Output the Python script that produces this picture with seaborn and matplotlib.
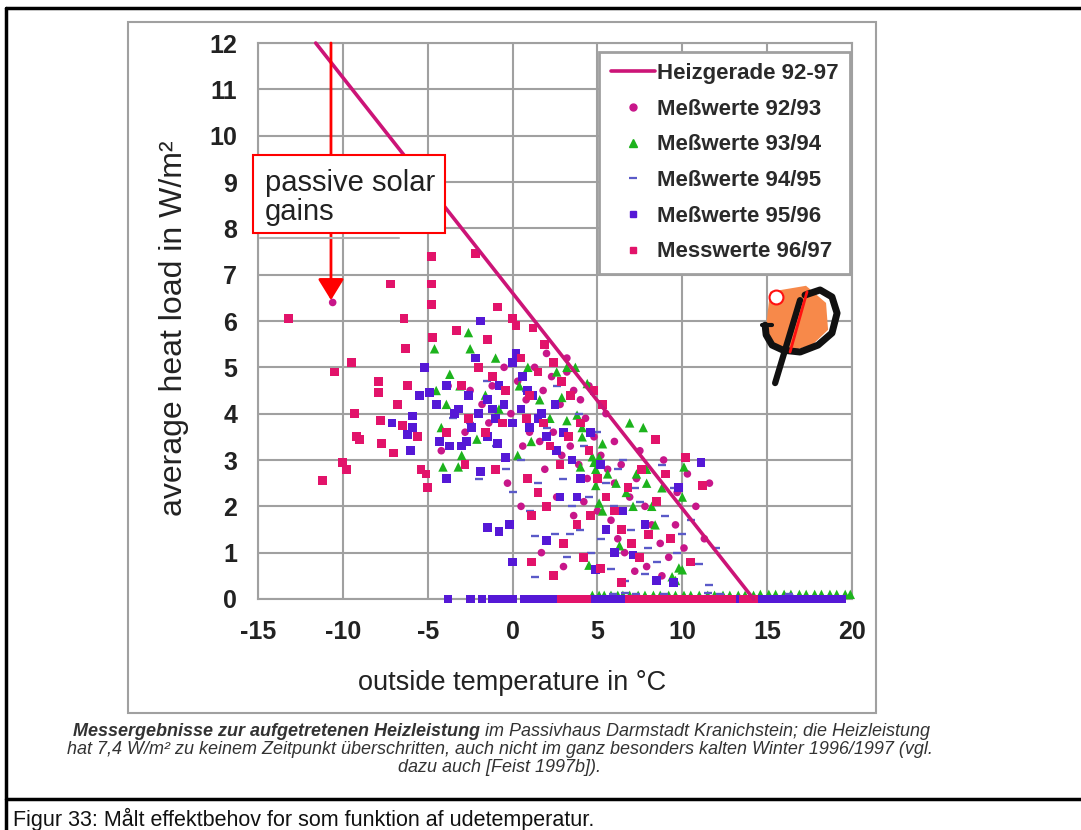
import numpy as np
import pandas as pd
import matplotlib
matplotlib.use("Agg")
import matplotlib.pyplot as plt
import seaborn as sns
from matplotlib.lines import Line2D
from matplotlib.patches import Rectangle, Polygon

# Heizgerade 92-97 (outside temperature, heat load)
heiz_x = [-11.6, 14.2]
heiz_y = [12.0, 0.0]

# Meßwerte 92/93 (circles)
pts_9293 = [(-10.6, 6.4), (-2.5, 4.5), (-1.8, 4.2), (-1.2, 4.6), (-0.5, 5.0), (0.3, 4.7), (0.8, 4.3),
            (1.3, 5.0), (1.8, 4.5), (2.3, 4.8), (2.8, 4.2), (3.2, 4.9), (3.6, 4.5), (4.0, 4.3),
            (4.3, 3.9), (1.0, 3.6), (1.6, 3.4), (2.4, 3.6), (2.9, 3.1), (3.4, 3.3), (3.9, 2.9),
            (4.4, 2.6), (4.8, 3.5), (5.2, 3.1), (5.6, 2.8), (6.0, 2.5), (6.4, 2.9), (6.9, 2.2),
            (7.3, 2.6), (7.8, 2.0), (8.2, 1.6), (8.7, 1.2), (9.2, 0.9), (9.7, 2.3), (10.3, 2.7),
            (10.8, 2.0), (11.3, 1.3), (5.8, 1.7), (6.2, 1.3), (5.0, 1.9), (4.2, 2.1), (3.6, 1.8),
            (2.6, 2.2), (7.2, 0.6), (7.9, 0.7), (8.8, 0.5), (6.6, 1.0), (9.6, 1.6), (3.0, 0.7),
            (1.7, 1.0), (0.5, 2.0), (-0.3, 2.5), (5.5, 4.0), (6.0, 3.4), (7.5, 3.2), (4.5, 4.6),
            (3.2, 5.2), (2.0, 5.3), (-1.4, 3.8), (-2.8, 3.6), (-3.8, 4.6), (-4.2, 3.2), (-0.1, 4.0),
            (0.6, 3.3), (1.9, 2.8), (8.9, 3.0), (11.6, 2.5), (10.1, 1.1),
            (7.0, 0.0), (7.6, 0.0), (8.2, 0.0), (9.4, 0.0), (10.4, 0.0), (11.6, 0.0), (12.5, 0.0), (13.3, 0.0)]

# Meßwerte 93/94 (triangles)
pts_9394 = [(3.2, 5.0), (3.7, 5.0), (4.4, 4.65), (2.9, 4.35), (2.2, 3.9), (3.2, 3.85), (6.9, 3.8),
            (7.7, 3.7), (1.1, 3.4), (4.1, 3.5), (5.1, 3.05), (5.3, 3.35), (4.0, 2.85), (4.9, 2.8),
            (5.6, 2.7), (6.1, 2.5), (4.9, 2.45), (7.3, 2.7), (7.9, 2.5), (8.8, 2.4), (10.1, 2.85),
            (10.0, 2.2), (6.7, 2.3), (5.1, 2.07), (5.3, 1.9), (7.1, 2.0), (8.2, 2.0), (4.5, 0.73),
            (9.4, 0.48), (9.8, 0.67), (7.9, 2.8), (0.3, 3.1), (3.8, 3.97), (4.1, 3.7), (4.7, 3.07),
            (4.8, 2.95), (-2.6, 5.75), (-4.1, 2.85), (-3.2, 2.85), (-4.2, 3.7), (-3.0, 3.1),
            (-2.1, 3.45), (-4.6, 5.4), (-4.5, 4.5), (-3.7, 4.85), (-3.1, 4.6), (-1.6, 4.4),
            (-0.8, 4.1), (0.4, 4.6), (1.6, 4.3), (-2.5, 5.4), (6.3, 1.15), (8.4, 1.6), (10.0, 0.63),
            (9.6, 0.4), (-1.0, 5.2), (0.9, 5.0), (2.6, 4.9), (-3.9, 4.2),
            (4.7, 0.08), (5.1, 0.08), (5.4, 0.08), (5.8, 0.08), (6.2, 0.08), (6.5, 0.08), (6.9, 0.08),
            (7.4, 0.08), (7.8, 0.08), (8.3, 0.08), (8.7, 0.08), (9.2, 0.08), (9.6, 0.08), (10.1, 0.08),
            (10.5, 0.08), (11.0, 0.08), (11.5, 0.08), (11.9, 0.08), (12.4, 0.08), (12.8, 0.08),
            (13.3, 0.08), (13.7, 0.08), (14.2, 0.08), (14.6, 0.1), (15.1, 0.1), (15.5, 0.1),
            (16.0, 0.1), (16.4, 0.1), (16.9, 0.1), (17.3, 0.1), (17.8, 0.1), (18.2, 0.1), (18.7, 0.1),
            (19.1, 0.1), (19.6, 0.1), (19.9, 0.1)]

# Meßwerte 94/95 (dashes)
pts_9495 = [(1.3, 1.35), (1.3, 0.47), (2.0, 2.0), (-0.4, 2.8), (-2.5, 3.8), (-1.0, 3.3), (0.5, 3.0),
            (1.5, 2.5), (2.0, 3.7), (3.0, 2.6), (3.5, 2.0), (4.0, 1.5), (4.5, 2.2), (5.0, 3.6),
            (5.5, 2.5), (6.0, 2.0), (6.5, 3.0), (7.0, 1.5), (7.5, 2.1), (8.0, 1.1), (8.5, 0.8),
            (9.0, 1.8), (9.5, 2.4), (10.0, 1.4), (10.5, 1.7), (11.0, 0.75), (11.6, 0.3), (3.2, 0.9),
            (4.6, 1.0), (5.8, 0.65), (6.6, 0.38), (7.8, 0.55), (2.5, 1.4), (0.0, 2.3), (-2.0, 2.6),
            (12.0, 1.1), (8.8, 2.9), (2.6, 4.6), (3.9, 4.0), (4.2, 3.3), (-3.5, 3.9), (-1.5, 4.7),
            (0.8, 4.5), (6.2, 2.8), (7.2, 2.4), (9.7, 1.0), (3.4, 1.4), (5.2, 1.3), (1.0, 1.9),
            (5.9, 0.1), (6.6, 0.12), (7.3, 0.1), (8.9, 0.1), (11.5, 0.12), (12.2, 0.1), (16.3, 0.1)]

# Meßwerte 95/96 (squares)
pts_9596 = [(-7.1, 3.8), (-6.2, 3.55), (-5.9, 3.7), (-5.9, 3.95), (-5.5, 4.4), (-4.9, 4.45), (-3.9, 2.6),
            (-1.9, 2.75), (-4.3, 3.4), (-3.7, 3.3), (-3.0, 3.3), (-2.7, 3.4), (-1.5, 3.5), (-0.9, 3.35),
            (-0.4, 3.05), (-1.5, 1.55), (-0.8, 1.45), (-0.2, 1.6), (0.0, 0.8), (2.0, 1.27), (-4.5, 4.2),
            (-3.9, 4.6), (-3.2, 4.1), (-2.6, 4.4), (-2.0, 4.0), (-1.5, 4.3), (-1.0, 3.9), (-0.5, 4.2),
            (0.0, 3.8), (0.5, 4.1), (1.0, 3.7), (1.5, 3.9), (2.0, 3.5), (-2.2, 5.2), (-1.9, 6.0),
            (0.2, 5.3), (0.0, 5.1), (-0.8, 4.6), (1.2, 4.4), (2.5, 4.2), (3.0, 3.6), (3.5, 3.0),
            (4.0, 2.6), (4.6, 3.6), (2.8, 2.2), (5.5, 1.5), (6.0, 1.0), (8.5, 0.4), (9.8, 2.4),
            (11.1, 2.95), (4.9, 0.63), (7.1, 0.95), (9.5, 0.35), (-6.0, 3.2), (-5.2, 5.0), (0.6, 4.8),
            (1.7, 4.0), (2.6, 3.2), (3.8, 2.2), (5.2, 2.9), (6.5, 1.9), (7.8, 1.6), (-3.4, 4.0),
            (-2.4, 3.7), (-1.2, 4.1), (0.9, 4.5),
            (-3.8, 0.0), (-2.5, 0.0), (-1.8, 0.0), (-1.2, 0.0), (-0.8, 0.0), (-0.35, 0.0), (0.0, 0.0),
            (0.7, 0.0), (1.1, 0.0), (1.4, 0.0), (1.7, 0.0), (2.0, 0.0), (2.3, 0.0), (2.6, 0.0),
            (4.7, 0.0), (5.0, 0.0), (5.3, 0.0), (5.6, 0.0), (5.9, 0.0), (6.2, 0.0), (6.5, 0.0),
            (6.8, 0.0), (13.1, 0.0), (13.4, 0.0), (14.4, 0.0), (14.7, 0.0), (15.0, 0.0), (15.3, 0.0),
            (15.6, 0.0), (15.9, 0.0), (16.2, 0.0), (16.5, 0.0), (16.8, 0.0), (17.1, 0.0), (17.4, 0.0),
            (17.7, 0.0), (18.0, 0.0), (18.3, 0.0), (18.6, 0.0), (19.0, 0.0), (19.4, 0.0)]

# Messwerte 96/97 (squares)
pts_9697 = [(-13.2, 6.05), (-11.2, 2.55), (-10.5, 4.9), (-10.0, 2.95), (-9.8, 2.8), (-9.5, 5.1),
            (-9.3, 4.0), (-9.2, 3.5), (-9.0, 3.45), (-7.9, 4.7), (-7.9, 4.45), (-7.8, 3.85),
            (-7.7, 3.35), (-7.2, 6.8), (-7.0, 3.15), (-6.8, 4.2), (-6.5, 3.75), (-6.4, 6.05),
            (-6.3, 5.4), (-6.2, 4.6), (-5.6, 3.5), (-5.4, 2.8), (-5.1, 2.7), (-5.0, 2.4), (-4.8, 7.4),
            (-4.8, 6.8), (-4.8, 6.35), (-4.7, 5.65), (-2.2, 7.45), (-3.3, 5.8), (-0.9, 6.3),
            (0.0, 6.05), (0.2, 5.9), (1.2, 5.85), (1.9, 5.5), (-1.5, 5.6),
            (-3.0, 4.6), (-2.0, 5.0), (-1.2, 4.8), (-0.4, 4.5), (0.5, 5.2), (1.0, 4.4), (1.5, 4.9),
            (2.4, 5.1), (2.9, 4.7), (3.4, 4.4), (-2.6, 3.9), (-1.6, 3.6), (-0.6, 3.8), (0.8, 3.9),
            (1.8, 3.8), (2.2, 3.3), (2.8, 2.9), (3.3, 3.5), (4.0, 3.8), (4.5, 3.2), (5.0, 2.6),
            (5.5, 2.2), (6.0, 1.9), (6.4, 1.5), (7.0, 1.2), (7.5, 0.9), (8.0, 1.4), (8.5, 2.1),
            (9.0, 2.7), (10.2, 3.05), (11.2, 2.45), (3.0, 1.2), (4.2, 0.9), (5.2, 0.65), (1.1, 0.8),
            (2.0, 2.0), (1.5, 2.3), (0.9, 2.6), (3.8, 1.6), (4.6, 1.8), (6.8, 2.4), (7.6, 2.8),
            (8.4, 3.45), (9.3, 1.3), (10.5, 0.8), (-1.0, 2.8), (-2.8, 2.9), (1.1, 1.8), (2.4, 0.5),
            (6.4, 0.35), (5.3, 4.2), (4.8, 4.5), (-3.9, 3.6),
            (2.9, 0.0), (3.2, 0.0), (3.5, 0.0), (3.8, 0.0), (4.0, 0.0), (4.35, 0.0), (6.9, 0.0),
            (7.1, 0.0), (7.5, 0.0), (7.7, 0.0), (8.0, 0.0), (8.3, 0.0), (8.6, 0.0), (8.8, 0.0),
            (9.1, 0.0), (9.5, 0.0), (9.7, 0.0), (10.0, 0.0), (10.3, 0.0), (10.6, 0.0), (10.9, 0.0),
            (11.1, 0.0), (11.4, 0.0), (11.8, 0.0), (12.0, 0.0), (12.3, 0.0), (12.7, 0.0), (12.9, 0.0),
            (13.6, 0.0), (13.9, 0.0), (14.2, 0.0)]

labels = ["Heizgerade 92-97", "Meßwerte 92/93", "Meßwerte 93/94", "Meßwerte 94/95",
          "Meßwerte 95/96", "Messwerte 96/97"]
colors = ["#cc1477", "#c8168a", "#1db31d", "#5a5ac8", "#5518d6", "#e2136a"]

W, H = 1081, 830
sns.set_style("white")
plt.rcParams['font.family'] = ['Liberation Sans', 'DejaVu Sans']
plt.rcParams['axes.unicode_minus'] = False

fig = plt.figure(figsize=(W / 100, H / 100), dpi=100)
ax = fig.add_axes([258 / W, 1 - 599 / H, (852 - 258) / W, (599 - 43) / H])

grey = "#a0a0a0"
ax.set_xlim(-15, 20)
ax.set_ylim(0, 12)
ax.set_xticks(np.arange(-15, 21, 5))
ax.set_yticks(np.arange(0, 13, 1))
ax.grid(True, color=grey, lw=1.5)
ax.set_axisbelow(True)
for s in ax.spines.values():
    s.set_color(grey)
    s.set_linewidth(1.5)
ax.tick_params(axis='both', direction='out', length=6, width=1.5, color=grey,
               labelsize=18, labelcolor="#222222", pad=9)
for lab in ax.get_xticklabels() + ax.get_yticklabels():
    lab.set_fontweight('bold')

series = [(pts_9293, 'o', 30, colors[1]), (pts_9394, '^', 46, colors[2]),
          (pts_9495, '_', 40, colors[3]), (pts_9596, 's', 40, colors[4]),
          (pts_9697, 's', 40, colors[5])]
for pts, mk, size, col in series:
    df = pd.DataFrame(pts, columns=["temp", "load"])
    if mk == '_':
        sns.scatterplot(data=df, x="temp", y="load", marker=mk, s=size, color=col,
                        linewidth=1.7, ax=ax, zorder=3, clip_on=False, legend=False)
    else:
        sns.scatterplot(data=df, x="temp", y="load", marker=mk, s=size, color=col,
                        edgecolor="none", linewidth=0, ax=ax, zorder=3, clip_on=False, legend=False)

line_df = pd.DataFrame({"temp": heiz_x, "load": heiz_y})
sns.lineplot(data=line_df, x="temp", y="load", color=colors[0], lw=2.6, ax=ax,
             zorder=4, sort=False, clip_on=False)
ax.set_xlabel("")
ax.set_ylabel("")

# annotation: passive solar gains
ax.annotate("", xy=(-10.7, 6.45), xytext=(-10.7, 12.0),
            arrowprops=dict(arrowstyle='-|>,head_length=1.3,head_width=0.8', color='#ff0000',
                            lw=2, shrinkA=0, shrinkB=0), zorder=5, annotation_clip=False)
ax.plot([-14.9, -6.7], [7.79, 7.79], color="#b0b0b0", lw=1.5, zorder=5, clip_on=False)
ax.add_patch(Rectangle((-15.3, 7.9), 11.3, 1.68, facecolor='white', edgecolor='#ff0000',
                       lw=1.5, zorder=6, clip_on=False))
ax.text(-14.6, 8.67, "passive solar\ngains", fontsize=21, color="#222222", va='center',
        ha='left', zorder=7, linespacing=1.05)

# logo
ax.add_patch(Polygon([(15.17, 6.63), (17.29, 6.76), (18.47, 6.39), (18.59, 5.81), (17.65, 5.48),
                      (16.35, 5.35), (15.29, 5.48), (14.94, 5.89)],
                     closed=True, facecolor="#f7894a", edgecolor='none', zorder=6))
ax.plot([17.23, 18.12, 18.82, 19.12, 18.82, 18.0, 16.94, 15.94, 15.29, 14.94, 14.88],
        [6.56, 6.67, 6.52, 6.17, 5.74, 5.48, 5.33, 5.37, 5.48, 5.70, 5.91],
        color='#111111', lw=5, solid_capstyle='round', zorder=7)
ax.plot([14.70, 15.29], [5.91, 5.91], color='#111111', lw=3, zorder=7)
ax.plot([16.94, 15.47], [6.45, 4.66], color='#111111', lw=4.5, zorder=7)
ax.plot([17.35, 16.35], [6.63, 5.33], color='#ff1010', lw=2, zorder=8)
ax.plot([15.52], [6.52], marker='o', markersize=10, markerfacecolor='white',
        markeredgecolor='#ff1010', markeredgewidth=1.5, zorder=9)

# legend
handles = [Line2D([], [], color=colors[0], lw=2.6),
           Line2D([], [], marker='o', ls='', color=colors[1], markersize=5),
           Line2D([], [], marker='^', ls='', color=colors[2], markersize=6),
           Line2D([], [], marker='_', ls='', color=colors[3], markersize=6, markeredgewidth=1.6),
           Line2D([], [], marker='s', ls='', color=colors[4], markersize=5),
           Line2D([], [], marker='s', ls='', color=colors[5], markersize=5)]
leg = ax.legend(handles, labels, loc='upper right', bbox_to_anchor=(850 / W, 1 - 52 / H),
                bbox_transform=fig.transFigure, frameon=True, fancybox=False, framealpha=1,
                edgecolor=grey, fontsize=16, labelspacing=0.66, handlelength=2.0,
                handletextpad=0.1, borderpad=0.5, borderaxespad=0)
leg.get_frame().set_linewidth(2)
leg.set_zorder(10)
for t in leg.get_texts():
    t.set_fontweight('bold')
    t.set_color('#2a2a2a')

# axis labels
fig.text(174 / W, 1 - 328 / H, "average heat load in W/m²", rotation=90, fontsize=23,
         color="#222222", ha='center', va='center')
fig.text(512 / W, 1 - 683 / H, "outside temperature in °C", fontsize=19.5,
         color="#222222", ha='center', va='center')

# frames
fig.add_artist(Rectangle((128 / W, 1 - 713 / H), (876 - 128) / W, (713 - 22) / H,
                         transform=fig.transFigure, fill=False, edgecolor=grey, lw=1.5))
fig.add_artist(Line2D([6 / W, 6 / W], [0, 1 - 8 / H], transform=fig.transFigure,
                      color='black', lw=2.5))
fig.add_artist(Line2D([6 / W, 1], [1 - 8 / H, 1 - 8 / H], transform=fig.transFigure,
                      color='black', lw=2.5))
fig.add_artist(Line2D([6 / W, 1], [1 - 799 / H, 1 - 799 / H], transform=fig.transFigure,
                      color='black', lw=2.5))

# captions
cap = "#333333"
t1 = fig.text(73 / W, 1 - 736 / H, "Messergebnisse zur aufgetretenen Heizleistung", fontsize=13,
              style='italic', weight='bold', color=cap, ha='left', va='baseline')
ax.annotate(" im Passivhaus Darmstadt Kranichstein; die Heizleistung", xy=(1, 0), xycoords=t1,
            fontsize=13, style='italic', color=cap, ha='left', va='bottom', annotation_clip=False)
fig.text(500 / W, 1 - 754 / H,
         "hat 7,4 W/m² zu keinem Zeitpunkt überschritten, auch nicht im ganz besonders kalten Winter 1996/1997 (vgl.",
         fontsize=13, style='italic', color=cap, ha='center', va='baseline')
fig.text(500 / W, 1 - 772 / H, "dazu auch [Feist 1997b]).", fontsize=13, style='italic',
         color=cap, ha='center', va='baseline')
fig.text(13 / W, 1 - 826 / H, "Figur 33: Målt effektbehov for som funktion af udetemperatur.",
         fontsize=15.5, color='#111111', ha='left', va='baseline')

fig.savefig("out.png", dpi=100)
